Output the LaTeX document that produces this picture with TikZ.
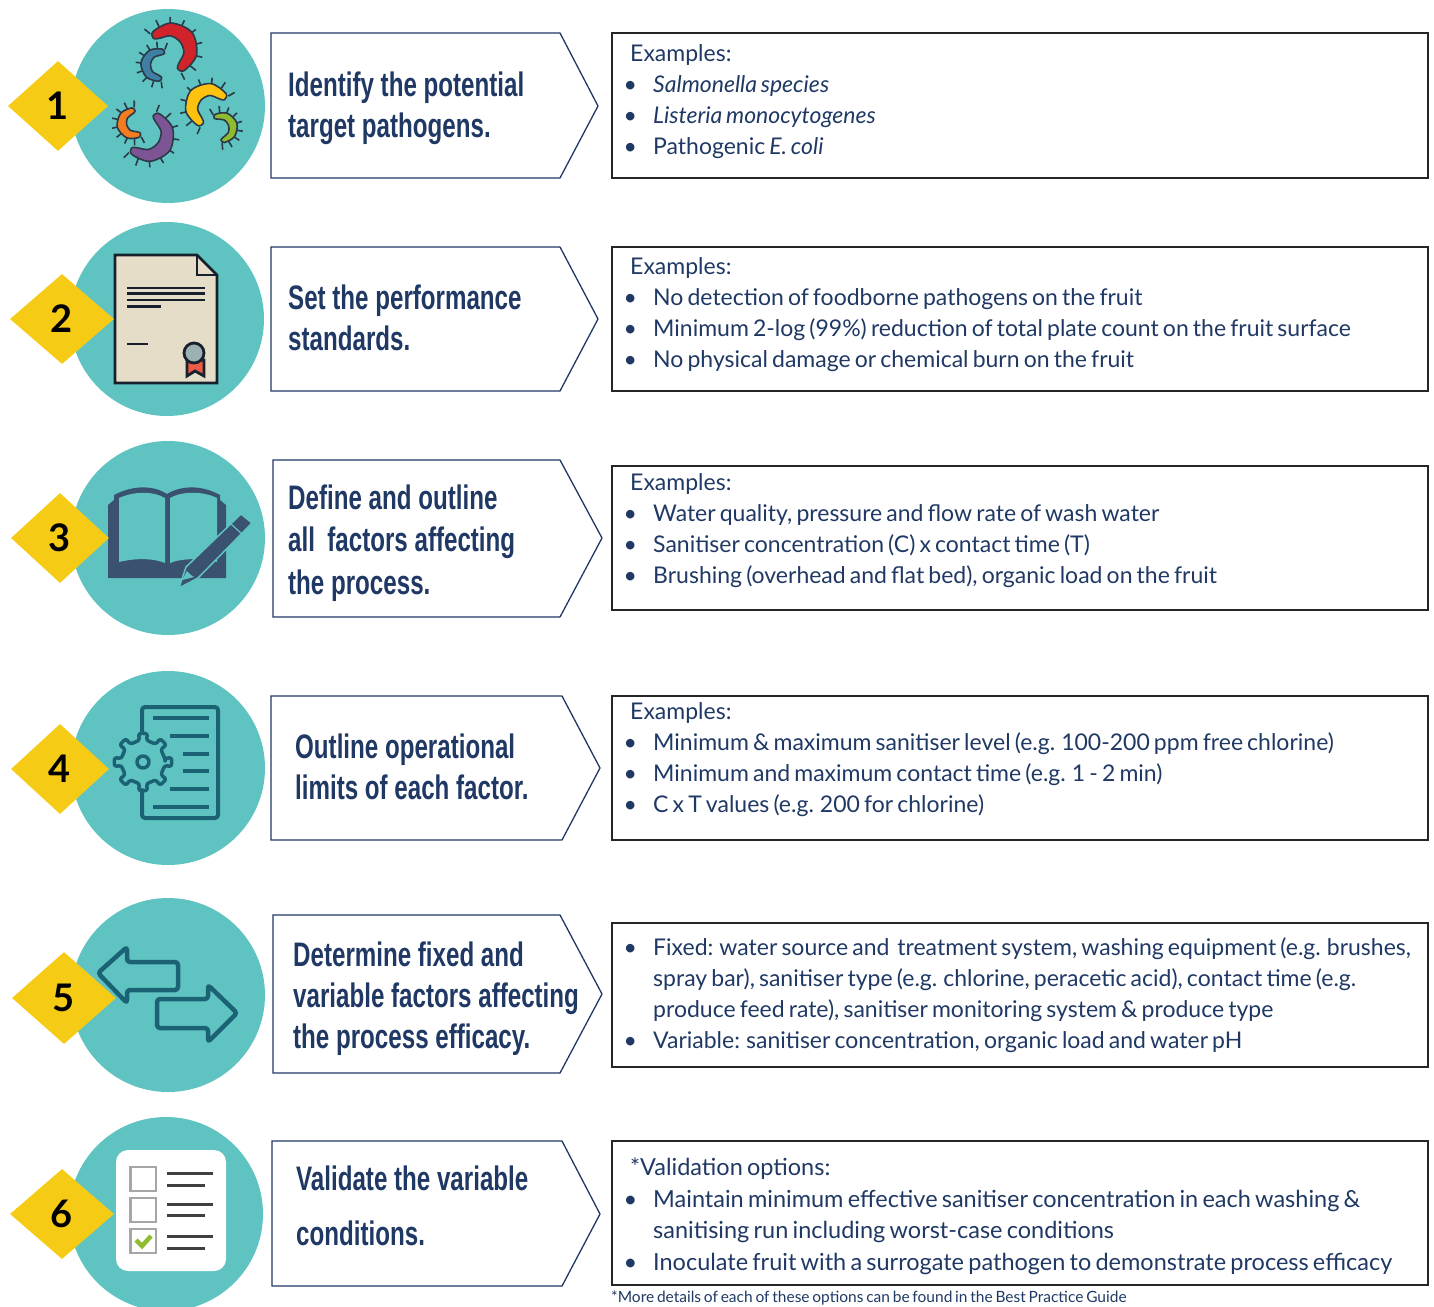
\documentclass[tikz,border=0pt]{standalone}
\usepackage{fontspec}
\setmainfont[WordSpace=0.7]{Lato}
\newfontfamily\titlefont[FakeStretch=0.71]{Liberation Sans Bold}
\usetikzlibrary{shapes.geometric}
\definecolor{stepteal}{HTML}{5FC4C1}
\definecolor{stepgold}{HTML}{F5CB16}
\definecolor{stepnavy}{HTML}{1F3864}
\definecolor{iconblue}{HTML}{1B6275}
\definecolor{booknavy}{HTML}{3A5270}
\definecolor{bugdark}{HTML}{2B3A46}
\definecolor{bugred}{HTML}{D2232A}
\definecolor{bugblue}{HTML}{3F7FA3}
\definecolor{bugyellow}{HTML}{FDC20F}
\definecolor{buggreen}{HTML}{8FBB2F}
\definecolor{bugorange}{HTML}{F47C20}
\definecolor{bugviolet}{HTML}{7D5594}
\definecolor{paper}{HTML}{E5DDC8}
\newcommand{\bp}{\hspace*{-6.5pt}\makebox[29.5pt][l]{\textbullet}}
\newcommand{\bugicon}[7]{%
  \begin{scope}[shift={(#1,#2)}]
    \foreach \k in {0.02,0.14,...,1.01}
      \draw[bugline] ({#5+(#6-#5)*\k}:{#3+0.4*#4}) -- ({#5+(#6-#5)*\k}:{#3+0.5*#4+6});
    \draw[bugline,fill=#7] plot[smooth cycle,tension=0.55] coordinates {
      (#5:#3) ({#5+(#6-#5)*0.06}:{#3+0.36*#4}) ({#5+(#6-#5)*0.27}:{#3+0.5*#4}) ({#5+(#6-#5)*0.5}:{#3+0.58*#4}) ({#5+(#6-#5)*0.73}:{#3+0.5*#4}) ({#5+(#6-#5)*0.94}:{#3+0.36*#4})
      (#6:#3) ({#5+(#6-#5)*0.94}:{#3-0.3*#4}) ({#5+(#6-#5)*0.73}:{#3-0.42*#4}) ({#5+(#6-#5)*0.5}:{#3-0.5*#4}) ({#5+(#6-#5)*0.27}:{#3-0.42*#4}) ({#5+(#6-#5)*0.06}:{#3-0.3*#4})};
  \end{scope}}

\begin{document}
\begin{tikzpicture}[x=1pt,y=-1pt,bugline/.style={draw=bugdark,line width=1.6pt,line join=round}]
  \tikzstyle{stepcircle}=[circle,fill=stepteal,minimum size=194pt,inner sep=0pt]
  \tikzstyle{stepdiamond}=[diamond,fill=stepgold,minimum width=100pt,minimum height=90pt,inner sep=0pt,font=\bfseries\fontsize{38}{38}\selectfont]
  \tikzstyle{chevronline}=[draw=stepnavy,line width=1.3pt,line join=miter]
  \tikzstyle{boxline}=[draw=black!85,line width=2pt]
  \tikzstyle{titletext}=[anchor=west,inner sep=0pt,align=left,text=stepnavy,font=\titlefont\fontsize{34}{41}\selectfont]
  \tikzstyle{boxtext}=[anchor=north west,inner sep=0pt,align=left,text=stepnavy,font=\fontsize{23}{31}\selectfont]
  \tikzstyle{iconline}=[draw=iconblue,line width=4.5pt,line join=round,line cap=round]
  \tikzstyle{docline}=[draw=black!60!booknavy,line width=2.8pt]
  \tikzstyle{listline}=[draw=black!75,line width=3pt]
  \tikzstyle{checkbox}=[draw=black!35,line width=2.5pt]

  \path[use as bounding box,clip] (0,0) rectangle (1434,1306);

  \node[stepcircle] (circle1) at (168,106) {};
  \node[stepcircle] (circle2) at (167,319) {};
  \node[stepcircle] (circle3) at (168,538) {};
  \node[stepcircle] (circle4) at (168,768) {};
  \node[stepcircle] (circle5) at (168,995) {};
  \node[stepcircle] (circle6) at (166,1214) {};

  \bugicon{170}{50}{20}{14}{215}{428}{bugred}
  \bugicon{159}{65}{13}{9}{78}{295}{bugblue}
  \bugicon{209}{107}{17}{13}{109}{335}{bugyellow}
  \bugicon{221}{128}{12}{8}{235}{450}{buggreen}
  \bugicon{134}{123}{12}{9}{58}{275}{bugorange}
  \bugicon{147}{135}{20}{13}{-72}{140}{bugviolet}

  \draw[docline,fill=paper] (115,255) -- (197,255) -- (217,275) -- (217,383) -- (115,383) -- cycle;
  \draw[docline] (197,255) -- (197,275) -- (217,275);
  \draw[docline,line width=2.2pt] (127,288) -- (205,288) (127,293.5) -- (205,293.5) (127,300) -- (205,300) (127,306.5) -- (161,306.5) (127,344) -- (148,344);
  \draw[docline,fill=red!60!brown!80!white] (187,360) -- (187,376) -- (195,371) -- (204,376) -- (204,360) -- cycle;
  \draw[docline,fill=teal!30!gray!60!white] (194,353) circle (10);

  \fill[booknavy] (108,578) -- (108,505) -- (114,500) -- (114,495) .. controls (135,484) and (155,486) .. (167,494)
    .. controls (180,486) and (200,484) .. (220,495) -- (220,500) -- (226,505) -- (226,578) -- cycle;
  \fill[stepteal] (119,562) -- (119,498) .. controls (135,491) and (153,491) .. (165,498) -- (165,563) .. controls (153,558) and (135,558) .. (119,562) -- cycle;
  \fill[stepteal] (170,563) -- (170,498) .. controls (182,491) and (203,491) .. (217,498) -- (217,562) .. controls (203,558) and (182,558) .. (170,563) -- cycle;
  \draw[stepteal,fill=booknavy,line width=1.5pt,line join=round] (179,588) -- (186,567) -- (241,514) -- (252,523) -- (198,578) -- cycle;
  \fill[stepteal] (182,580) -- (187,571) -- (191,575) -- (194,577) -- cycle;
  \draw[stepteal,line width=1.2pt] (231,524) -- (242,534);

  \draw[iconline,line width=4pt] (142,733) -- (142,712) [rounded corners=3pt] -- (142,707) -- (218,707) -- (218,818) -- (142,818) -- (142,790);
  \draw[iconline,line width=4pt,line cap=butt] (153,718) -- (209,718) (170,736) -- (209,736) (183,754) -- (209,754) (183,771) -- (209,771) (170,789) -- (209,789) (153,807) -- (209,807);
  \begin{scope}[shift={(143,762)}]
    \draw[iconline,line width=3.5pt,rounded corners=2.5pt] (-8:22)
      \foreach \a in {0,45,...,315} { -- ({\a-9}:22) -- ({\a-9}:29) -- ({\a+9}:29) -- ({\a+9}:22) } -- cycle;
    \draw[iconline,line width=3.5pt] (0,0) circle (6);
  \end{scope}

  \draw[iconline,rounded corners=3pt] (98,973) -- (127,947) -- (127,962) -- (178,962) -- (178,990) -- (127,990) -- (127,1003) -- cycle;
  \draw[iconline,rounded corners=3pt] (237,1013) -- (208,985) -- (208,999) -- (157,999) -- (157,1028) -- (208,1028) -- (208,1042) -- cycle;

  \fill[white,rounded corners=12pt] (116,1150) rectangle (226,1271);
  \draw[checkbox] (130.5,1167) rectangle (156,1191);
  \draw[checkbox] (130.5,1198) rectangle (156,1222);
  \draw[checkbox] (130.5,1229) rectangle (156,1253);
  \draw[listline] (167,1173) -- (213,1173) (167,1185) -- (205,1185) (167,1204) -- (213,1204) (167,1215) -- (205,1215) (167,1236) -- (213,1236) (167,1248) -- (205,1248);
  \draw[draw=buggreen,line width=4.5pt] (136,1240) -- (142,1246) -- (151,1236);

  \node[stepdiamond] (diamond1) at (58,106) {1};
  \node[stepdiamond,minimum width=104pt] (diamond2) at (62,319) {2};
  \node[stepdiamond,minimum width=98pt] (diamond3) at (60,538) {3};
  \node[stepdiamond,minimum width=98pt] (diamond4) at (60,769) {4};
  \node[stepdiamond,minimum width=104pt,minimum height=92pt] (diamond5) at (64,998) {5};
  \node[stepdiamond,minimum width=104pt] (diamond6) at (62,1214) {6};

  \draw[chevronline] (271,33) -- (560,33) -- (598,106) -- (560,178) -- (271,178) -- cycle;
  \draw[chevronline] (271,247) -- (560,247) -- (598,319) -- (560,391) -- (271,391) -- cycle;
  \draw[chevronline] (273,460) -- (560,460) -- (602,538) -- (560,617) -- (273,617) -- cycle;
  \draw[chevronline] (271,696) -- (562,696) -- (600,768) -- (562,840) -- (271,840) -- cycle;
  \draw[chevronline] (273,915) -- (560,915) -- (602,994) -- (560,1073) -- (273,1073) -- cycle;
  \draw[chevronline] (272,1141) -- (562,1141) -- (600,1214) -- (562,1286) -- (272,1286) -- cycle;

  \node[titletext] (title1) at (288,108) {Identify the potential\\target pathogens.};
  \node[titletext] (title2) at (288,318) {Set the performance\\standards.};
  \node[titletext,font=\titlefont\fontsize{34}{42.5}\selectfont] (title3) at (288,543) {Define and outline\\all\, factors affecting\\the process.};
  \node[titletext] (title4) at (295,767) {Outline operational\\limits of each factor.};
  \node[titletext] (title5) at (293,999) {Determine fixed and\\variable factors affecting\\the process efficacy.};
  \node[titletext,font=\titlefont\fontsize{34}{55}\selectfont] (title6) at (296,1206) {Validate the variable\\conditions.};

  \draw[boxline] (612,33) rectangle (1428,178);
  \draw[boxline] (612,247) rectangle (1428,391);
  \draw[boxline] (612,466) rectangle (1428,610);
  \draw[boxline] (612,696) rectangle (1428,840);
  \draw[boxline] (612,923) rectangle (1428,1067);
  \draw[boxline] (612,1141) rectangle (1428,1285);

  \node[boxtext] (examples1) at (630,44.5) {Examples:\\
    \bp\textit{Salmonella species}\\
    \bp\textit{Listeria monocytogenes}\\
    \bp Pathogenic \textit{E. coli}};
  \node[boxtext] (examples2) at (630,257.5) {Examples:\\
    \bp No detection of foodborne pathogens on the fruit\\
    \bp Minimum 2-log (99\%) reduction of total plate count on the fruit surface\\
    \bp No physical damage or chemical burn on the fruit};
  \node[boxtext] (examples3) at (630,473.5) {Examples:\\
    \bp Water quality, pressure and flow rate of wash water\\
    \bp Sanitiser concentration (C) x contact time (T)\\
    \bp Brushing (overhead and flat bed), organic load on the fruit};
  \node[boxtext] (examples4) at (630,702.5) {Examples:\\
    \bp Minimum \& maximum sanitiser level (e.g. 100-200 ppm free chlorine)\\
    \bp Minimum and maximum contact time (e.g. 1 - 2 min)\\
    \bp C x T values (e.g. 200 for chlorine)};
  \node[boxtext] (examples5) at (630,937) {%
    \bp Fixed: water source and\, treatment system, washing equipment (e.g. brushes,\\
    \hspace*{23pt}spray bar), sanitiser type (e.g. chlorine, peracetic acid), contact time (e.g.\\
    \hspace*{23pt}produce feed rate), sanitiser monitoring system \& produce type\\
    \bp Variable: sanitiser concentration, organic load and water pH};
  \node[boxtext,font=\fontsize{23.5}{31.5}\selectfont] (examples6) at (630,1158) {*Validation options:\\
    \bp Maintain minimum effective sanitiser concentration in each washing \&\\
    \hspace*{23pt}sanitising run including worst-case conditions\\
    \bp Inoculate fruit with a surrogate pathogen to demonstrate process efficacy};
  \node[anchor=base west,inner sep=0pt,text=stepnavy,font=\fontsize{15.5}{16}\selectfont] (footnote) at (611,1302) {*More details of each of these options can be found in the Best Practice Guide};
\end{tikzpicture}
\end{document}
